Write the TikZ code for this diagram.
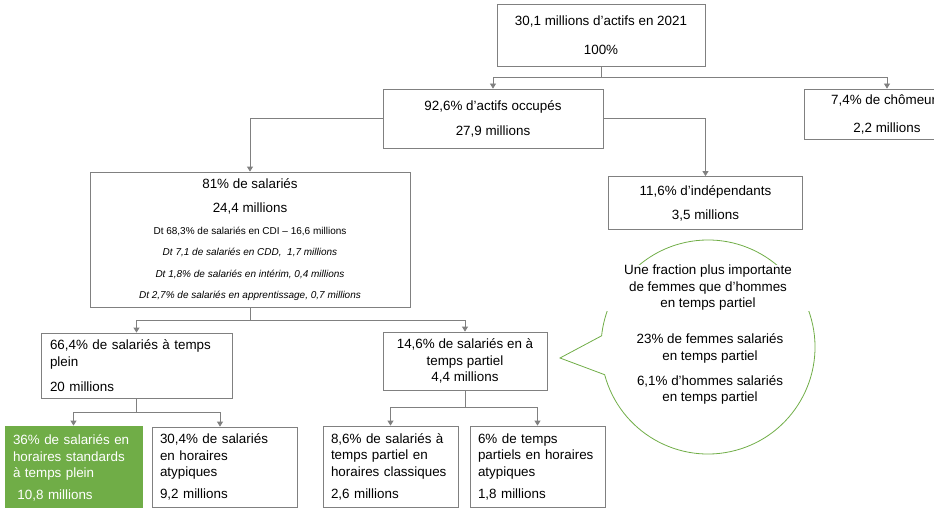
\documentclass[tikz,border=0pt]{standalone}
\usepackage{fontspec}
\setmainfont{Liberation Sans}
\usetikzlibrary{arrows.meta}
\definecolor{vert}{HTML}{70AD47}
\definecolor{trait}{HTML}{808080}

\begin{document}
\begin{tikzpicture}[x=1pt, y=1pt,
    every node/.style={font=\fontsize{13.4}{16.5}\selectfont, inner sep=0pt},
    boite/.style={draw=trait, line width=0.8pt, align=center},
    colonne/.style={draw=trait, line width=0.8pt, align=left, inner xsep=8pt},
    petit/.style={font=\fontsize{10}{12}\selectfont},
    lien/.style={draw=trait, line width=0.8pt},
    fleche/.style={lien, -{Triangle[width=6pt,length=5pt]}},
    bulle/.style={draw=vert, line width=0.8pt}]
    \useasboundingbox (0,0) rectangle (934,-508);

    \node[boite, minimum width=208pt, minimum height=62pt] (actifs) at (601,-35)
        {30,1 millions d’actifs en 2021\\[12.5pt] 100\%};
    \node[boite, minimum width=220pt, minimum height=59pt] (occupes) at (493,-118.5)
        {92,6\% d’actifs occupés\\[8.5pt] 27,9 millions};
    \node[boite, minimum width=166pt, minimum height=50pt] (chomeurs) at (887,-114)
        {7,4\% de chômeurs\\[11.5pt] 2,2 millions};
    \node[boite, minimum width=320pt, minimum height=135pt] (salaries) at (250,-239.5)
        {81\% de salariés\\[7.5pt] 24,4 millions\\[5.5pt]
        {\fontsize{10}{12}\selectfont Dt 68,3\% de salariés en CDI -- 16,6 millions}\\[5pt]
        {\fontsize{10}{12}\selectfont\itshape Dt 7,1 de salariés en CDD,~ 1,7 millions}\\[5pt]
        {\fontsize{10}{12}\selectfont\itshape Dt 1,8\% de salariés en intérim, 0,4 millions}\\[4.5pt]
        {\fontsize{10}{12}\selectfont\itshape Dt 2,7\% de salariés en apprentissage, 0,7 millions}};
    \node[boite, minimum width=194pt, minimum height=53pt] (independants) at (705.5,-203)
        {11,6\% d’indépendants\\[7.5pt] 3,5 millions};
    \node[colonne, text width=173pt, inner xsep=9pt, minimum height=65pt] (plein) at (136.5,-365.5)
        {66,4\% de salariés à temps\\ plein\\[8.5pt] 20 millions};
    \node[boite, minimum width=164pt, minimum height=58pt] (partiel) at (465,-361)
        {14,6\% de salariés en à\\ temps partiel\\ 4,4 millions};
    \node[colonne, text width=121pt, minimum height=84pt, fill=vert, draw=vert, text=white] (standard) at (73.5,-468)
        {36\% de salariés en\\ horaires standards\\ à temps plein\\[5.5pt] \ 10,8 millions};
    \node[colonne, text width=129pt, minimum height=80pt] (atypun) at (224.5,-467)
        {30,4\% de salariés\\ en horaires\\ atypiques\\[5.5pt] 9,2 millions};
    \node[colonne, text width=119pt, minimum height=81pt] (classiques) at (390.5,-466.5)
        {8,6\% de salariés à\\ temps partiel en\\ horaires classiques\\[5.5pt] 2,6 millions};
    \node[colonne, text width=119pt, minimum height=81pt] (atypdeux) at (537.5,-466.5)
        {6\% de temps\\ partiels en horaires\\ atypiques\\[5.5pt] 1,8 millions};

    \draw[lien] (actifs.south) -- ++(0,-11) coordinate (nactifs);
    \draw[fleche] (nactifs) -| (occupes.north);
    \draw[fleche] (nactifs) -| (chomeurs.north);
    \draw[fleche] (occupes.west) -| (salaries.north);
    \draw[fleche] (occupes.east) -| (independants.north);
    \draw[lien] (salaries.south) -- ++(0,-13) coordinate (nsalaries);
    \draw[fleche] (nsalaries) -| (plein.north);
    \draw[fleche] (nsalaries) -| (partiel.north);
    \draw[lien] (plein.south) -- ++(0,-14) coordinate (nplein);
    \draw[fleche] (nplein) -| (standard.north);
    \draw[fleche] (nplein) -| ([xshift=-4.5pt]atypun.north);
    \draw[lien] (partiel.south) -- ++(0,-17) coordinate (npartiel);
    \draw[fleche] (npartiel) -| (classiques.north);
    \draw[fleche] (npartiel) -| (atypdeux.north);

    \coordinate (pointe) at (560,-358);
    \draw[bulle] (708,-347) ++(195:107) arc[start angle=195, end angle=534, radius=107] -- (pointe) -- cycle;
    \node[fill=white, minimum width=216pt, align=center] (fraction) at (708,-288)
        {Une fraction plus importante\\ de femmes que d’hommes\\ en temps partiel};
    \node[align=center] (parts) at (710,-369)
        {23\% de femmes salariés\\ en temps partiel\\[8.5pt] 6,1\% d’hommes salariés\\ en temps partiel};
\end{tikzpicture}
\end{document}
